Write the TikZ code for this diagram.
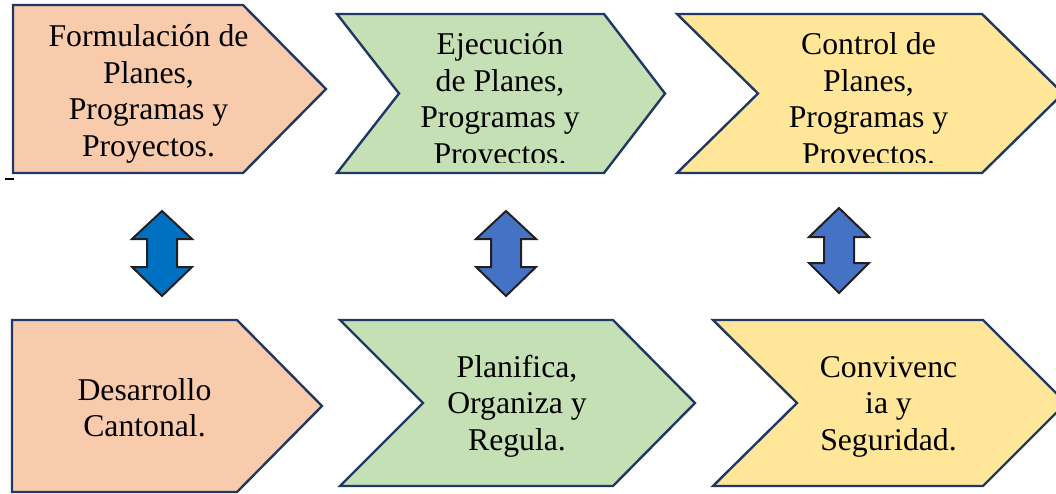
\documentclass[tikz,border=0pt]{standalone}
\usepackage{fontspec}
\setmainfont{Liberation Serif}
\definecolor{boxline}{HTML}{1F3864}
\definecolor{orangefill}{HTML}{F8CBAD}
\definecolor{greenfill}{HTML}{C5E0B4}
\definecolor{yellowfill}{HTML}{FFE699}
\definecolor{arrowA}{HTML}{0070C0}
\definecolor{arrowB}{HTML}{4472C4}
\definecolor{arrowline}{HTML}{231F20}
\tikzset{
  shapebox/.style={draw=boxline, line width=2.4pt, line join=miter},
  dblarrow/.style={draw=arrowline, line width=2pt, line join=miter},
  lbl/.style={font=\fontsize{31.7pt}{36.5pt}\selectfont, align=center, anchor=base, inner sep=0pt, text=black}
}
\newcommand{\myUDarrow}[6]{% cx, top, hb1, hb2, bottom, colour
  \draw[dblarrow,fill=#6] (#1,#2) -- (#1+30,#3) -- (#1+15,#3) -- (#1+15,#4) -- (#1+30,#4)
    -- (#1,#5) -- (#1-30,#4) -- (#1-15,#4) -- (#1-15,#3) -- (#1-30,#3) -- cycle;}
\begin{document}
\begin{tikzpicture}[x=1pt,y=-1pt]
\useasboundingbox (0,0) rectangle (1056,494);
% top row shapes
\draw[shapebox,fill=orangefill] (13,5) -- (243,5) -- (326,89) -- (243,173) -- (13,173) -- cycle;
\draw[shapebox,fill=greenfill] (337,14) -- (604,14) -- (665,93.5) -- (604,173) -- (337,173) -- (399,93.5) -- cycle;
\draw[shapebox,fill=yellowfill] (677,14) -- (982,14) -- (1063,93.5) -- (982,173) -- (677,173) -- (758,93.5) -- cycle;
% bottom row shapes
\draw[shapebox,fill=orangefill] (12,320) -- (237,320) -- (322,406) -- (237,492) -- (12,492) -- cycle;
\draw[shapebox,fill=greenfill] (340,320) -- (613,320) -- (695,403) -- (613,486) -- (340,486) -- (423,403) -- cycle;
\draw[shapebox,fill=yellowfill] (713,320) -- (983,320) -- (1066,403) -- (983,486) -- (713,486) -- (797,403) -- cycle;
% small dash
\draw[line width=2.7pt] (5,179) -- (14,179);
% double arrows
\myUDarrow{162}{211}{239}{267}{296}{arrowA}
\myUDarrow{506}{211}{239}{267}{296}{arrowB}
\myUDarrow{839}{208}{237}{263}{293}{arrowB}
% texts (anchor = baseline of the last line)
\node[lbl] (t1) at (148.5,156.5) {Formulación de\\Planes,\\Programas y\\Proyectos.};
\begin{scope}
\clip (330,0) rectangle (1056,163);
\node[lbl] (t2) at (500,164.5) {Ejecución\\de Planes,\\Programas y\\Proyectos.};
\node[lbl] (t3) at (868.5,164.5) {Control de\\Planes,\\Programas y\\Proyectos.};
\end{scope}
\node[lbl] (b1) at (144.5,436.5) {Desarrollo\\Cantonal.};
\node[lbl] (b2) at (517,450) {Planifica,\\Organiza y\\Regula.};
\node[lbl] (b3) at (888.5,450) {Convivenc\\ia y\\Seguridad.};
\end{tikzpicture}
\end{document}
